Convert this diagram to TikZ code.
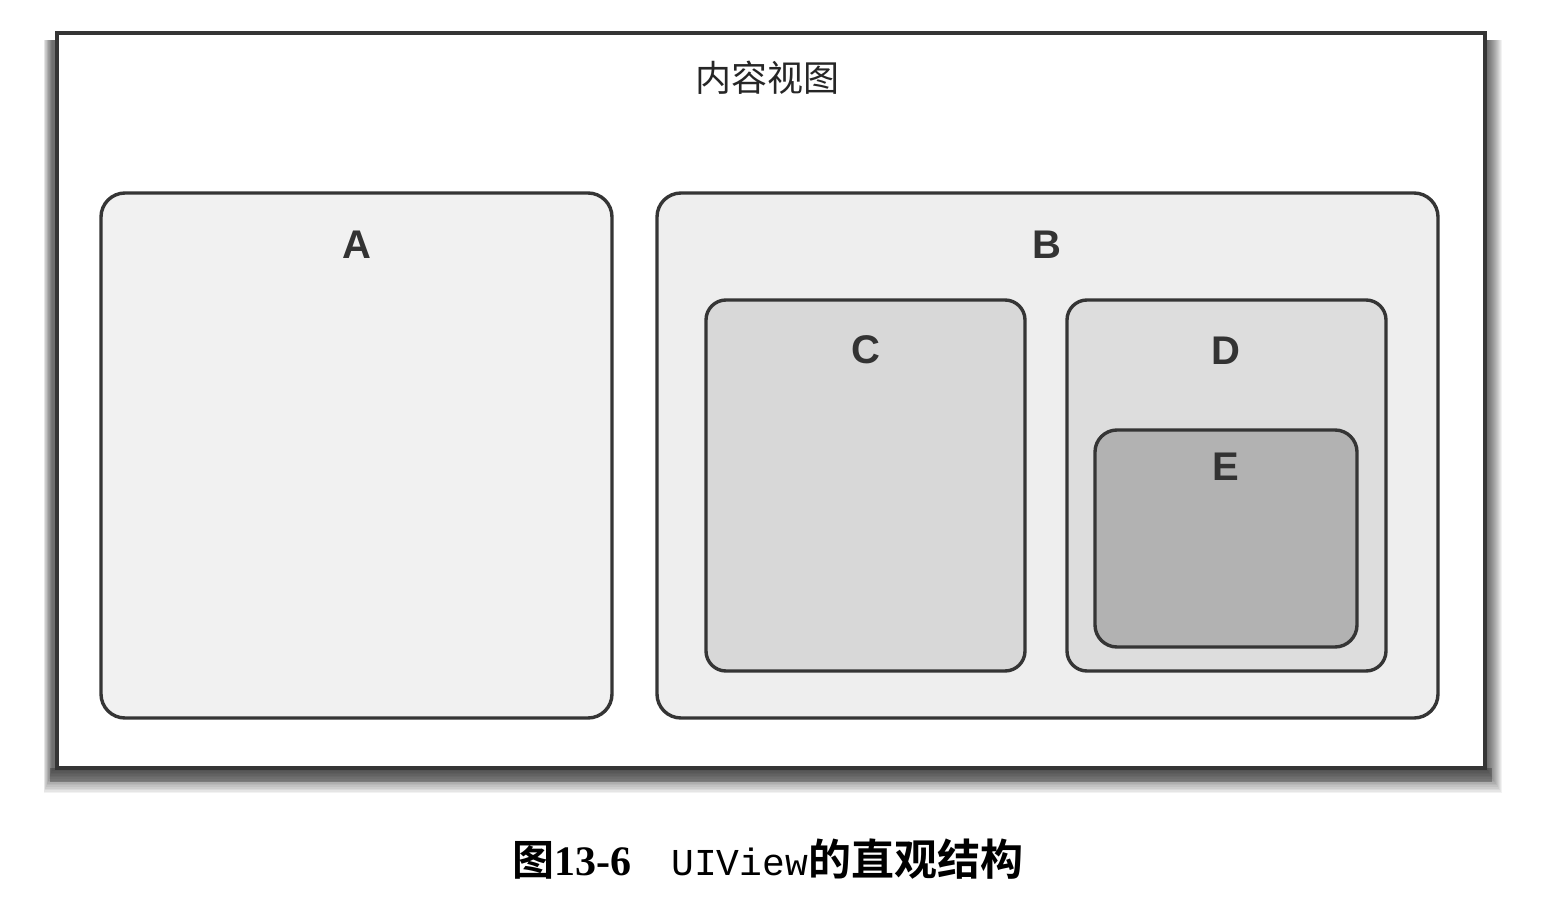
\documentclass[tikz,border=0pt]{standalone}
\usepackage{fontspec}
\setmainfont{Liberation Serif}
\newfontfamily\cjk{Noto Sans CJK SC}
\newfontfamily\cjkbold{Noto Sans CJK SC Bold}
\newfontfamily\lsans{Liberation Sans}
\newfontfamily\lmono{Liberation Mono}
\definecolor{edge}{HTML}{353535}
\definecolor{fillA}{HTML}{F1F1F1}
\definecolor{fillB}{HTML}{EEEEEE}
\definecolor{fillC}{HTML}{D8D8D8}
\definecolor{fillD}{HTML}{DDDDDD}
\definecolor{fillE}{HTML}{B2B2B2}
\tikzset{
  viewbox/.style={draw=edge, line width=1.7pt, rectangle, rounded corners=12pt, inner sep=0pt},
  viewlabel/.style={font=\lsans\bfseries\fontsize{20}{24}\selectfont, text=black!80},
}
\begin{document}
\begin{tikzpicture}[x=0.5pt,y=-0.5pt]
\useasboundingbox[fill=white] (0,0) rectangle (1548,910);
% shadow of outer frame
\foreach \k in {0,...,14}{
  \fill[black,opacity=0.05] (52-\k*0.6,40) rectangle (1488+\k,771+\k*1.6);
}
\fill[black,opacity=0.25] (50,768) rectangle (1492,782);
\node[draw=edge, line width=2pt, fill=white, rectangle, inner sep=0pt,
      minimum width=714pt, minimum height=367.5pt] (outer) at (771,400.5) {};
\node[font=\cjk\fontsize{18}{20}\selectfont, text=black!85] (title) at (767,78) {内容视图};
% A
\node[viewbox, fill=fillA, minimum width=255.5pt, minimum height=262.5pt] (A) at (356.5,455.5) {};
\node[viewlabel] (Alab) at (357,245) {A};
% B
\node[viewbox, fill=fillB, minimum width=390.5pt, minimum height=262.5pt] (B) at (1047.5,455.5) {};
\node[viewlabel] (Blab) at (1047,245) {B};
% C
\node[viewbox, fill=fillC, rounded corners=10pt, minimum width=159.5pt, minimum height=185.5pt] (C) at (865.5,485.5) {};
\node[viewlabel] (Clab) at (866,350) {C};
% D
\node[viewbox, fill=fillD, rounded corners=10pt, minimum width=159.5pt, minimum height=185.5pt] (D) at (1226.5,485.5) {};
\node[viewlabel] (Dlab) at (1226,351) {D};
% E
\node[viewbox, fill=fillE, rounded corners=11pt, minimum width=131pt, minimum height=108.5pt] (E) at (1226,538.5) {};
\node[viewlabel] (Elab) at (1226,467) {E};
% caption
\node[anchor=base west, inner sep=0pt] (cap) at (512,875) {{\cjkbold\fontsize{21}{24}\selectfont 图}{\bfseries\fontsize{21}{24}\selectfont 13-6}\hspace{20pt}{\lmono\fontsize{19}{24}\selectfont UIView}{\cjkbold\fontsize{21.5}{24}\selectfont 的直观结构}};
\end{tikzpicture}
\end{document}
